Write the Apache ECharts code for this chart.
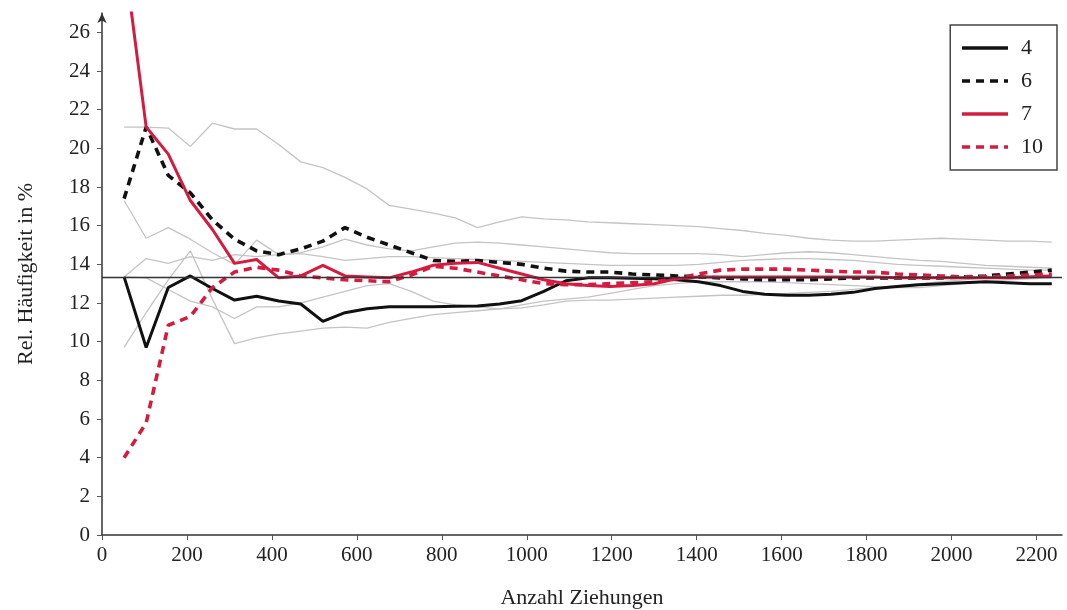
<!DOCTYPE html>
<html lang="de">
<head>
    <meta charset="UTF-8">
    <title>Relative Häufigkeit</title>
    <style>
        body { margin: 0; background: #fff; }
        #main { width: 1067px; height: 610px; }
    </style>
</head>
<body>
    <div id="main"></div>
    <script src="https://cdn.jsdelivr.net/npm/echarts@6/dist/echarts.min.js"></script>
    <script>
        // Anzahl Ziehungen (one point per year of weekly draws)
        const draws = [52, 104, 156, 208, 260, 312, 364, 416, 468, 520, 572, 624, 676, 728, 780,
            832, 884, 936, 988, 1040, 1092, 1144, 1196, 1248, 1300, 1352, 1404, 1456, 1508, 1560,
            1612, 1664, 1716, 1768, 1820, 1872, 1924, 1976, 2028, 2080, 2132, 2184, 2236];

        const expected = 13.33; // 6 / 45

        const num4 = [13.35, 9.7, 12.8, 13.4, 12.75, 12.15, 12.35, 12.1, 11.95, 11.05, 11.5, 11.7, 11.8, 11.8, 11.8,
            11.83, 11.85, 11.95, 12.12, 12.6, 13.15, 13.3, 13.3, 13.28, 13.25, 13.2, 13.1, 12.9, 12.6, 12.45,
            12.4, 12.4, 12.45, 12.55, 12.75, 12.85, 12.95, 13.0, 13.05, 13.1, 13.05, 13.0, 13.0];
        const num6 = [17.4, 21.1, 18.6, 17.7, 16.3, 15.3, 14.7, 14.5, 14.8, 15.2, 15.9, 15.4, 15.0, 14.6, 14.2,
            14.15, 14.2, 14.1, 14.0, 13.8, 13.65, 13.6, 13.6, 13.5, 13.45, 13.4, 13.35, 13.3, 13.25, 13.2,
            13.2, 13.2, 13.25, 13.3, 13.3, 13.3, 13.3, 13.3, 13.35, 13.4, 13.5, 13.6, 13.7];
        const num7 = [30.0, 21.1, 19.7, 17.3, 15.8, 14.05, 14.25, 13.3, 13.4, 13.95, 13.4, 13.35, 13.3, 13.6, 13.95,
            14.05, 14.1, 13.8, 13.5, 13.2, 13.0, 12.9, 12.85, 12.9, 13.0, 13.25, 13.35, 13.35, 13.35, 13.35,
            13.35, 13.35, 13.35, 13.35, 13.35, 13.3, 13.3, 13.3, 13.3, 13.3, 13.3, 13.35, 13.4];
        const num10 = [4.0, 5.8, 10.85, 11.3, 12.8, 13.6, 13.85, 13.7, 13.4, 13.3, 13.2, 13.15, 13.1, 13.45, 13.9,
            13.8, 13.6, 13.4, 13.2, 13.0, 12.95, 12.95, 13.0, 13.05, 13.1, 13.25, 13.5, 13.7, 13.75, 13.75,
            13.75, 13.7, 13.65, 13.6, 13.6, 13.5, 13.45, 13.4, 13.35, 13.35, 13.4, 13.45, 13.5];

        // other numbers (grey background lines)
        const grey1 = [21.1, 21.1, 21.05, 20.1, 21.3, 21.0, 21.0, 20.2, 19.3, 19.0, 18.5, 17.9, 17.05, 16.85, 16.65,
            16.4, 15.9, 16.2, 16.45, 16.35, 16.3, 16.2, 16.15, 16.1, 16.05, 16.0, 15.95, 15.85, 15.75, 15.6,
            15.5, 15.35, 15.25, 15.2, 15.2, 15.25, 15.3, 15.35, 15.3, 15.25, 15.2, 15.2, 15.15];
        const grey2 = [17.3, 15.35, 15.9, 15.3, 14.6, 14.0, 15.25, 14.5, 14.6, 14.9, 15.3, 15.0, 14.8, 14.7, 14.9,
            15.1, 15.15, 15.1, 15.0, 14.9, 14.8, 14.7, 14.6, 14.55, 14.55, 14.55, 14.55, 14.5, 14.4, 14.5,
            14.6, 14.65, 14.6, 14.5, 14.4, 14.3, 14.2, 14.15, 14.05, 13.95, 13.9, 13.85, 13.8];
        const grey3 = [13.35, 14.3, 14.05, 14.4, 14.2, 14.5, 14.4, 14.5, 14.55, 14.4, 14.2, 14.3, 14.4, 14.4, 14.35,
            14.3, 14.25, 14.2, 14.15, 14.1, 14.05, 14.0, 13.95, 13.95, 13.95, 13.95, 14.0, 14.1, 14.2, 14.25,
            14.3, 14.3, 14.25, 14.2, 14.1, 14.0, 13.95, 13.9, 13.85, 13.8, 13.75, 13.7, 13.7];
        const grey4 = [9.7, 11.5, 13.2, 14.7, 12.2, 9.9, 10.2, 10.4, 10.55, 10.7, 10.75, 10.7, 11.0, 11.2, 11.4,
            11.5, 11.6, 11.7, 11.75, 11.9, 12.1, 12.15, 12.15, 12.2, 12.25, 12.3, 12.35, 12.4, 12.4, 12.45,
            12.5, 12.55, 12.6, 12.7, 12.8, 12.9, 13.0, 13.1, 13.2, 13.3, 13.35, 13.4, 13.45];
        const grey5 = [13.35, 13.3, 12.7, 12.1, 11.8, 11.2, 11.8, 11.8, 12.0, 12.3, 12.6, 12.9, 13.0, 12.6, 12.1,
            11.9, 11.8, 11.7, 11.9, 12.1, 12.2, 12.3, 12.5, 12.7, 12.9, 13.0, 13.1, 13.1, 13.1, 13.1,
            13.05, 13.0, 12.95, 12.9, 12.85, 12.8, 12.8, 12.9, 13.0, 13.1, 13.2, 13.25, 13.3];

        const xTicks = [0, 200, 400, 600, 800, 1000, 1200, 1400, 1600, 1800, 2000, 2200];

        const font = '"Liberation Serif", "DejaVu Serif", serif';
        const red = '#d41c40';
        const pairs = vals => draws.map((d, i) => [d, vals[i]]);

        const greySeries = [grey1, grey2, grey3, grey4, grey5].map(g => ({
            type: 'line',
            data: pairs(g),
            symbol: 'none',
            silent: true,
            z: 1,
            lineStyle: { color: '#c4c4c4', width: 1.3 }
        }));

        const main = (name, vals, color, dashed) => ({
            name: name,
            type: 'line',
            data: pairs(vals),
            symbol: 'none',
            z: 3,
            lineStyle: {
                color: color,
                width: dashed ? 3.6 : 3,
                type: dashed ? [8, 6] : 'solid'
            },
            itemStyle: { color: color }
        });

        const chart = echarts.init(document.getElementById('main'));
        chart.setOption({
            animation: false,
            backgroundColor: '#fff',
            textStyle: { fontFamily: font },
            grid: { left: 102, right: 5, top: 13, bottom: 75, outerBoundsMode: 'none', containLabel: false },
            legend: {
                orient: 'vertical',
                right: 10,
                top: 25,
                padding: [12, 14, 12, 10],
                itemGap: 11,
                itemWidth: 46,
                itemHeight: 20,
                borderColor: '#444',
                borderWidth: 1.5,
                backgroundColor: '#fff',
                itemStyle: { opacity: 0 },
                lineStyle: { width: 3.5 },
                textStyle: { fontSize: 22, color: '#222', fontFamily: font, padding: [0, 0, 0, 8] },
                data: ['4', '6', '7', '10']
            },
            xAxis: {
                type: 'value',
                min: 0,
                max: 2260,
                interval: 200,
                name: 'Anzahl Ziehungen',
                nameLocation: 'middle',
                nameGap: 52,
                nameTextStyle: { fontSize: 22, color: '#222', fontFamily: font },
                splitLine: { show: false },
                axisLine: { lineStyle: { color: '#333', width: 1.5 } },
                axisTick: { length: 5, lineStyle: { color: '#555' } },
                axisLabel: {
                    fontSize: 21, color: '#222', fontFamily: font, margin: 10, showMaxLabel: false,
                    formatter: v => xTicks.includes(v) ? String(v) : ''
                }
            },
            yAxis: {
                type: 'value',
                min: 0,
                max: 27,
                interval: 2,
                name: 'Rel. Häufigkeit in %',
                nameLocation: 'middle',
                nameGap: 65,
                nameTextStyle: { fontSize: 22, color: '#222', fontFamily: font },
                splitLine: { show: false },
                axisLine: {
                    show: true,
                    symbol: ['none', 'arrow'],
                    symbolSize: [7, 10],
                    lineStyle: { color: '#333', width: 1.5 }
                },
                axisTick: { show: true, length: 5, lineStyle: { color: '#555' } },
                axisLabel: {
                    fontSize: 21, color: '#222', fontFamily: font, margin: 12, showMaxLabel: false
                }
            },
            series: [
                ...greySeries,
                {
                    type: 'line',
                    data: [],
                    silent: true,
                    z: 2,
                    markLine: {
                        silent: true,
                        symbol: 'none',
                        label: { show: false },
                        lineStyle: { color: '#333', width: 1.3, type: 'solid' },
                        data: [{ yAxis: expected }]
                    }
                },
                main('4', num4, '#111', false),
                main('6', num6, '#111', true),
                main('7', num7, red, false),
                main('10', num10, red, true)
            ]
        });
    </script>
</body>
</html>
